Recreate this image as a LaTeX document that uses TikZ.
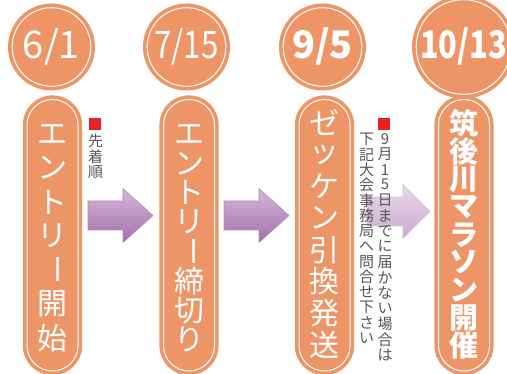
\documentclass[tikz,border=0pt]{standalone}
\usepackage{fontspec}
\setmainfont{Noto Sans CJK JP}
\usetikzlibrary{positioning,calc}

\definecolor{peach}{HTML}{ED9566}
\definecolor{notegray}{HTML}{555555}
\definecolor{notered}{HTML}{E8202A}
\definecolor{plumtop}{HTML}{D6B8DA}
\definecolor{plumbot}{HTML}{A36EA9}
\definecolor{plumline}{HTML}{B68ABB}
\definecolor{liltop}{HTML}{E8D9EA}
\definecolor{lilbot}{HTML}{CAAACE}
\definecolor{lilline}{HTML}{D7C2DA}

\newcommand{\vchoon}{\rotatebox[origin=c]{-90}{ー}}
% a column of vertical text: style, name, x, first y, step, characters
\newcommand{\vcolumn}[6]{%
  \foreach \ch [count=\i from 0] in {#6}
    \node[#1] (#2\i) at (#3,{#4+\i*#5}) {\ch};}

\begin{document}
\begin{tikzpicture}[x=1pt,y=-1pt,
    datecircle/.style={circle,minimum size=78.6pt,inner sep=0pt,fill=peach,
      draw=white,line width=1pt,preaction={draw=peach,line width=8.4pt},
      text=white,font=\fontsize{38}{38}\selectfont},
    pill/.style={rectangle,minimum width=51pt,minimum height=271.5pt,
      rounded corners=25.5pt,inner sep=0pt,fill=peach,draw=white,line width=1pt,
      preaction={draw=peach,line width=8.4pt}},
    pilltext/.style={text=white,inner sep=0pt,font=\fontsize{30}{30}\selectfont},
    pillbold/.style={pilltext,font=\fontsize{29}{29}\selectfont\bfseries},
    notetext/.style={text=notegray,inner sep=0pt,font=\fontsize{15}{15}\selectfont},
    notemark/.style={fill=notered,minimum size=12.5pt,inner sep=0pt},
    blockarrow/.style={top color=plumtop,bottom color=plumbot,draw=plumline,line width=0.6pt},
    lightarrow/.style={top color=liltop,bottom color=lilbot,draw=lilline,line width=0.6pt}]
  \useasboundingbox (0,0) rectangle (507,374);

  % dates
  \node[datecircle] (c1) at (51.5,47) {6/1};
  \node[datecircle] (c2) at (186.5,47) {\scalebox{0.82}[1]{7/15}};
  \node[datecircle] (c3) at (322.5,47) {\bfseries 9/5};
  \node[datecircle] (c4) at (463.5,47) {\bfseries\scalebox{0.81}[1]{10/13}};

  % steps
  \node[pill] (p1) at (52.5,235.25) {};
  \node[pill] (p2) at (189,235.25) {};
  \node[pill] (p3) at (324.5,235.25) {};
  \node[pill] (p4) at (464,235.25) {};

  % arrows between the steps
  \foreach \ax/\ay/\al/\ah/\st in {88/215.5/65/30/blockarrow,224/215.5/65/30/blockarrow,367/211.5/63/27/lightarrow}
    \draw[\st] (\ax,\ay-14.5) -- ++(\al-\ah,0) -- ++(0,-12.5) -- (\ax+\al,\ay)
      -- (\ax+\al-\ah,\ay+27) -- ++(0,-12.5) -- (\ax,\ay+14.5) -- cycle;

  \vcolumn{pilltext}{e}{52.5}{134}{34}{エ,ン,ト,リ,\vchoon,開,始}
  \vcolumn{pilltext}{s}{189}{134}{29.4}{エ,ン,ト,リ,\vchoon,締,切,り}
  \vcolumn{pilltext}{z}{324}{123}{31.7}{ゼ,ッ,ケ,ン,引,換,発,送}
  \vcolumn{pillbold}{m}{463.5}{123.5}{27.8}{筑,後,川,マ,ラ,ソ,ン,開,催}

  % notes
  \node[notemark] (m1) at (95,124) {};
  \vcolumn{notetext}{a}{95.5}{140.5}{16}{先,着,順}
  \node[notemark] (m2) at (384,124) {};
  \vcolumn{notetext}{b}{385}{139}{15.5}{9,月}
  \node[notetext] (d1) at (385,170) {1};
  \node[notetext] (d2) at (385,184.5) {5};
  \vcolumn{notetext}{r}{385}{200}{15.5}{日,ま,で,に,届,か,な,い,場,合,は}
  \vcolumn{notetext}{l}{366.5}{139.5}{15.27}{下,記,大,会,事,務,局,へ,問,合,せ,下,さ,い}
\end{tikzpicture}
\end{document}
